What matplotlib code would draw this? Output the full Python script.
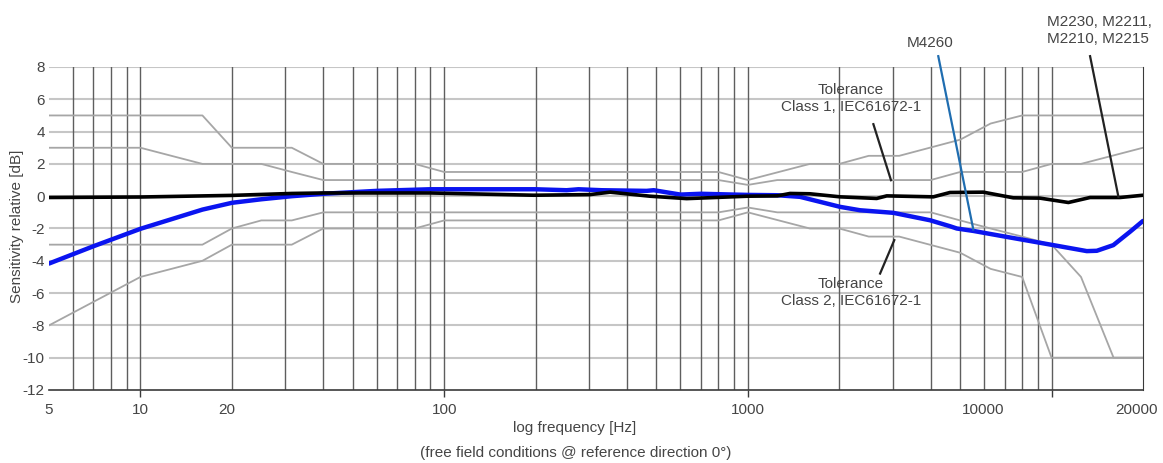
import numpy as np
import matplotlib
matplotlib.use("Agg")
import matplotlib.pyplot as plt
import matplotlib.transforms as mtransforms

plt.rcParams['font.family'] = ['Liberation Sans', 'DejaVu Sans']

# %% data

# M4260 (blue)
m4260_f = [5, 7, 10, 16, 20, 25, 31.5, 40, 60, 90, 200, 253, 277, 330, 464, 490,
           600, 700, 1000, 1250, 1486, 2013, 2340, 3013, 3980, 4630, 4875, 5525,
           7115, 10140, 13060, 14090, 15970, 18130, 20000]
m4260_db = [-4.17, -3.1, -2.02, -0.83, -0.41, -0.19, 0.0, 0.15, 0.33, 0.43, 0.43, 0.37,
            0.43, 0.37, 0.33, 0.37, 0.1, 0.15, 0.08, 0.06, -0.04, -0.66, -0.87,
            -1.03, -1.49, -1.86, -2.0, -2.15, -2.52, -3.03, -3.4, -3.38, -3.03,
            -2.2, -1.53]

# M2230 / M2211 / M2210 / M2215 (black)
m22xx_f = [5, 10, 20, 31.5, 40, 90, 197, 302, 352, 476, 629, 1000, 1250, 1377,
           1600, 2013, 2655, 2866, 4080, 4630, 5960, 7480, 9160, 11360, 13390,
           16820, 20000]
m22xx_db = [-0.08, -0.05, 0.05, 0.17, 0.2, 0.2, 0.06, 0.1, 0.25, 0.0, -0.15, 0.0,
            0.02, 0.17, 0.15, -0.04, -0.14, 0.02, -0.04, 0.23, 0.25, -0.1, -0.12,
            -0.39, -0.08, -0.08, 0.06]

# IEC61672-1 tolerance limits
cl1_up_f = [5, 10, 16, 25, 31.5, 40, 800, 1000, 1250, 4000, 5000, 8000, 10000, 12500, 20000]
cl1_up_db = [3, 3, 2, 2, 1.5, 1.0, 1.0, 0.7, 1.0, 1.0, 1.5, 1.5, 2.0, 2.0, 3.0]
cl1_lo_f = [5, 16, 20, 25, 31.5, 40, 800, 1000, 1250, 4000, 5000, 6300, 8000, 10000,
            12500, 16000, 20000]
cl1_lo_db = [-3, -3, -2, -1.5, -1.5, -1.0, -1.0, -0.7, -1.0, -1.0, -1.5, -2.0, -2.5,
             -3.0, -5.0, -10, -10]
cl2_up_f = [5, 16, 20, 31.5, 40, 80, 100, 800, 1000, 1600, 2000, 2500, 3150, 5000,
            6300, 8000, 20000]
cl2_up_db = [5, 5, 3, 3, 2, 2, 1.5, 1.5, 1.0, 2.0, 2.0, 2.5, 2.5, 3.5, 4.5, 5, 5]
cl2_lo_f = [5, 10, 16, 20, 31.5, 40, 80, 100, 800, 1000, 1600, 2000, 2500, 3150, 5000,
            6300, 8000, 10000, 20000]
cl2_lo_db = [-8, -5, -4, -3, -3, -2, -2, -1.5, -1.5, -1.0, -2, -2, -2.5, -2.5, -3.5,
             -4.5, -5, -10, -10]

# x tick labels (the original places 10000 / 20000 a bit off)
xlab_pos = [5, 10, 19.2, 100, 1000, 5960, 19100]
xlab_txt = ['5', '10', '20', '100', '1000', '10000', '20000']
y_ticks = list(range(-12, 9, 2))

# %% plot
txt_col = '#454545'
fig = plt.figure(figsize=(11.63, 4.63), dpi=100)
ax = fig.add_axes([49/1163, 1-390/463, (1143-49)/1163, (390-67)/463])
ax.set_xscale('log')
ax.set_xlim(5, 20000)
ax.set_ylim(-12, 8)

# grid
for y in y_ticks[1:]:
    ax.axhline(y, color='#c6c6c6', lw=1.5, zorder=1)
for dec in [1, 10, 100, 1000]:
    for k in range(1, 10):
        f = k * dec
        if 5 < f < 20000:
            ax.axvline(f, color='#5e5e5e', lw=1.0, zorder=1)
ax.axvline(10000, color='#5e5e5e', lw=1.0, zorder=1)

for s in ['top', 'left']:
    ax.spines[s].set_visible(False)
ax.spines['bottom'].set_color('#3a3a3a')
ax.spines['right'].set_color('#3a3a3a')
ax.spines['bottom'].set_linewidth(1.2)

# tolerance lines
tol = dict(color='#a6a6a6', lw=1.3, zorder=2)
ax.plot(cl1_up_f, cl1_up_db, **tol)
ax.plot(cl1_lo_f, cl1_lo_db, **tol)
ax.plot(cl2_up_f, cl2_up_db, **tol)
ax.plot(cl2_lo_f, cl2_lo_db, **tol)

ax.plot(m4260_f, m4260_db, color='#0a14f0', lw=3.2, zorder=3, solid_capstyle='round')
ax.plot(m22xx_f, m22xx_db, color='black', lw=2.6, zorder=4, solid_capstyle='round')

# ticks
ax.set_xticks([10, 100, 1000, 10000])
ax.set_xticklabels([])
ax.xaxis.set_minor_locator(matplotlib.ticker.NullLocator())
ax.tick_params(axis='x', length=5, width=1.0, color='#3a3a3a', direction='out')
ax.set_yticks(y_ticks)
ax.set_yticklabels([str(y) for y in y_ticks])
ax.tick_params(axis='y', length=0, pad=3, labelsize=11, labelcolor=txt_col)

trans = mtransforms.blended_transform_factory(ax.transData, ax.transAxes)
for xp, t in zip(xlab_pos, xlab_txt):
    ax.text(xp, -0.062, t, transform=trans, ha='center', va='center', fontsize=11, color=txt_col)

# annotations
ax.plot([4236, 5525], [8.67, -2.06], color='#1f6db0', lw=1.6, clip_on=False, zorder=5)
ax.text(3980, 9.5, 'M4260', ha='center', va='center', fontsize=11, color=txt_col)

ax.plot([13390, 16600], [8.67, -0.04], color='#222222', lw=1.6, clip_on=False, zorder=5)
ax.text(9640, 11.2, 'M2230, M2211,\nM2210, M2215', ha='left', va='top', fontsize=11,
        color=txt_col, linespacing=1.2)

ax.plot([2590, 2960], [4.46, 0.99], color='#222222', lw=1.6, zorder=5)
ax.text(2188, 6.05, 'Tolerance\nClass 1, IEC61672-1', ha='center', va='center',
        fontsize=11, color=txt_col, linespacing=1.2, multialignment='center')

ax.plot([3035, 2725], [-2.72, -4.79], color='#222222', lw=1.6, zorder=5)
ax.text(2188, -5.96, 'Tolerance\nClass 2, IEC61672-1', ha='center', va='center',
        fontsize=11, color=txt_col, linespacing=1.2, multialignment='center')

fig.text(17.5/1163, 1-226.5/463, 'Sensitivity relative [dB]', rotation=90,
         ha='center', va='center', fontsize=11, color=txt_col)
fig.text(575/1163, 1-428/463, 'log frequency [Hz]', ha='center', va='center',
         fontsize=11, color=txt_col)
fig.text(576/1163, 1-453/463, '(free field conditions @ reference direction 0°)',
         ha='center', va='center', fontsize=11, color=txt_col)

fig.savefig('out.png', dpi=100)
